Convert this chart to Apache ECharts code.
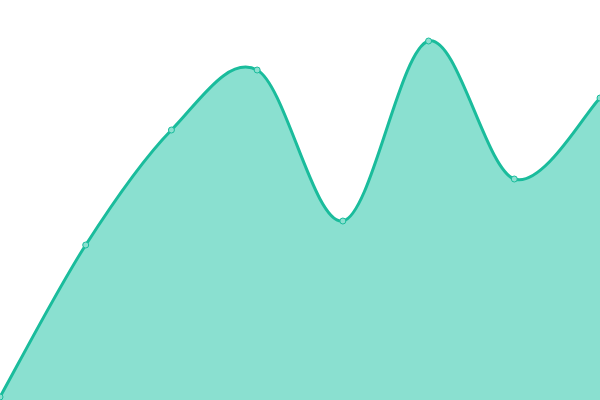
<!DOCTYPE html>
<html>
<head>
<meta charset="utf-8">
<script src="https://cdn.jsdelivr.net/npm/echarts@6/dist/echarts.min.js"></script>
<style>
  html, body { margin: 0; padding: 0; background: #fff; }
  #main { width: 600px; height: 400px; }
</style>
</head>
<body>
<div id="main"></div>
<script>
// data
var categories = ['A', 'B', 'C', 'D', 'E', 'F', 'G', 'H'];
var values = [3, 155, 270, 330, 179, 359, 221, 302];

var TENSION = 1 / 6;
var LINE_COLOR = '#1abc9c';
var AREA_COLOR = '#8ae0d0';

// catmull-rom style curve: control points at p +/- (next - prev) / 6
function curvePath(pts) {
  var d = 'M' + pts[0][0] + ' ' + pts[0][1];
  for (var i = 0; i < pts.length - 1; i++) {
    var p0 = pts[i - 1] || pts[i];
    var p1 = pts[i];
    var p2 = pts[i + 1];
    var p3 = pts[i + 2] || pts[i + 1];
    var c1 = [p1[0] + (p2[0] - p0[0]) * TENSION, p1[1] + (p2[1] - p0[1]) * TENSION];
    var c2 = [p2[0] - (p3[0] - p1[0]) * TENSION, p2[1] - (p3[1] - p1[1]) * TENSION];
    d += ' C' + c1[0] + ' ' + c1[1] + ' ' + c2[0] + ' ' + c2[1] + ' ' + p2[0] + ' ' + p2[1];
  }
  return d;
}

function renderCurve(params, api) {
  if (params.dataIndex !== 0) return;
  var pts = values.map(function (v, i) { return api.coord([i, v]); });
  var base = api.coord([0, 0])[1];
  var line = curvePath(pts);
  var area = line + ' L' + pts[pts.length - 1][0] + ' ' + base + ' L' + pts[0][0] + ' ' + base + ' Z';
  return {
    type: 'group',
    children: [
      { type: 'path', shape: { pathData: area }, style: { fill: AREA_COLOR, stroke: 'none' } },
      { type: 'path', shape: { pathData: line }, style: { fill: 'none', stroke: LINE_COLOR, lineWidth: 3 } }
    ]
  };
}

var chart = echarts.init(document.getElementById('main'));

var option = {
  animation: false,
  grid: { left: 0, right: 0, top: 0, bottom: 0 },
  xAxis: {
    type: 'category',
    boundaryGap: false,
    show: false,
    data: categories
  },
  yAxis: {
    type: 'value',
    show: false,
    min: 0,
    max: 400
  },
  series: [
    {
      type: 'custom',
      renderItem: renderCurve,
      data: values.map(function (v, i) { return [i, v]; }),
      encode: { x: 0, y: 1 },
      z: 2
    },
    {
      type: 'scatter',
      data: values,
      symbol: 'circle',
      symbolSize: 6,
      itemStyle: { color: '#8ce0d0', borderColor: LINE_COLOR, borderWidth: 1, opacity: 1 },
      z: 3
    }
  ]
};

chart.setOption(option);
</script>
</body>
</html>
